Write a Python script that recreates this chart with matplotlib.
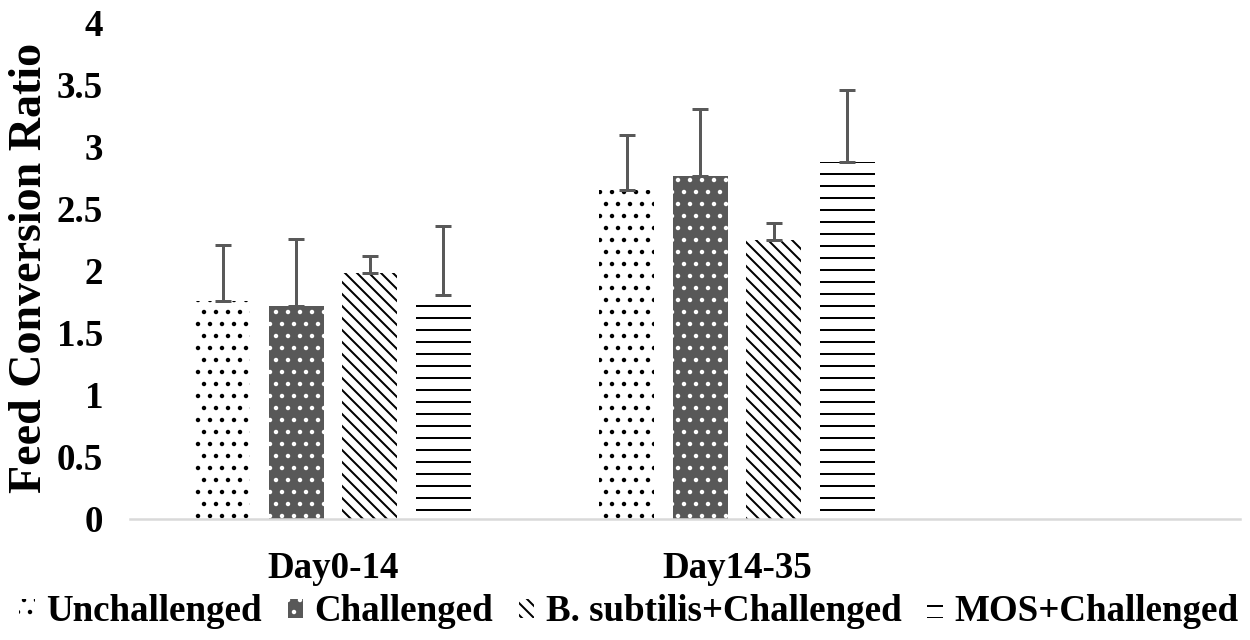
import numpy as np
import matplotlib
matplotlib.use('Agg')
import matplotlib.pyplot as plt

# data
periods = ['Day0-14', 'Day14-35']
groups = ['Unchallenged', 'Challenged', 'B. subtilis+Challenged', 'MOS+Challenged']
fcr = {
    'Unchallenged': [1.76, 2.65],
    'Challenged': [1.72, 2.77],
    'B. subtilis+Challenged': [1.98, 2.25],
    'MOS+Challenged': [1.81, 2.88],
}
fcr_err = {
    'Unchallenged': [0.45, 0.45],
    'Challenged': [0.54, 0.54],
    'B. subtilis+Challenged': [0.14, 0.14],
    'MOS+Challenged': [0.55, 0.58],
}
yticks = [0, 0.5, 1, 1.5, 2, 2.5, 3, 3.5, 4]

# look of each series: facecolor, hatch colour, hatch
styles = {
    'Unchallenged': ('white', 'black', '.'),
    'Challenged': ('#585858', 'white', '.'),
    'B. subtilis+Challenged': ('white', 'black', '\\\\'),
    'MOS+Challenged': ('white', 'black', '-'),
}

plt.rcParams['font.family'] = ['Liberation Serif', 'DejaVu Serif']
plt.rcParams['font.weight'] = 'bold'
plt.rcParams['hatch.linewidth'] = 2.0

# dpi 72 so one hatch unit = 72 px (closer to the Excel patterns)
fig = plt.figure(figsize=(1250/72, 640/72), dpi=72)
ax = fig.add_axes([130/1250, 121/640, 1110/1250, 496/640])

x = np.arange(len(periods))
width = 0.136
step = 0.182

for i, g in enumerate(groups):
    fc, hc, hatch = styles[g]
    pos = x + (i - 1.5) * step
    ax.bar(pos, fcr[g], width, color=fc, edgecolor=hc, hatch=hatch,
           linewidth=0, label=g, zorder=2)
    ax.errorbar(pos, fcr[g], yerr=[np.zeros(len(periods)), fcr_err[g]],
                fmt='none', ecolor='#595959', elinewidth=3, capsize=8,
                capthick=3, zorder=3)

ax.set_xlim(-0.502, 2.245)
ax.set_ylim(0, 4)
ax.set_yticks(yticks)
ax.set_yticklabels(['%g' % t for t in yticks])
ax.set_xticks(x)
ax.set_xticklabels(periods)
ax.tick_params(axis='y', length=0, pad=27, labelsize=37)
ax.tick_params(axis='x', length=0, pad=32, labelsize=37)

for s in ['top', 'right', 'left']:
    ax.spines[s].set_visible(False)
ax.spines['bottom'].set_color('#d9d9d9')
ax.spines['bottom'].set_linewidth(2.5)

ax.set_ylabel('Feed Conversion Ratio', fontsize=46, fontweight='bold')
ax.yaxis.set_label_coords(-0.071, 0.506)

fig.legend(loc='center', bbox_to_anchor=(0.503, 0.044), ncol=4, frameon=False,
           fontsize=37, handlelength=0.42, handleheight=0.42,
           handletextpad=0.3, columnspacing=0.7, borderaxespad=0)

fig.savefig('out.png', dpi=72)
